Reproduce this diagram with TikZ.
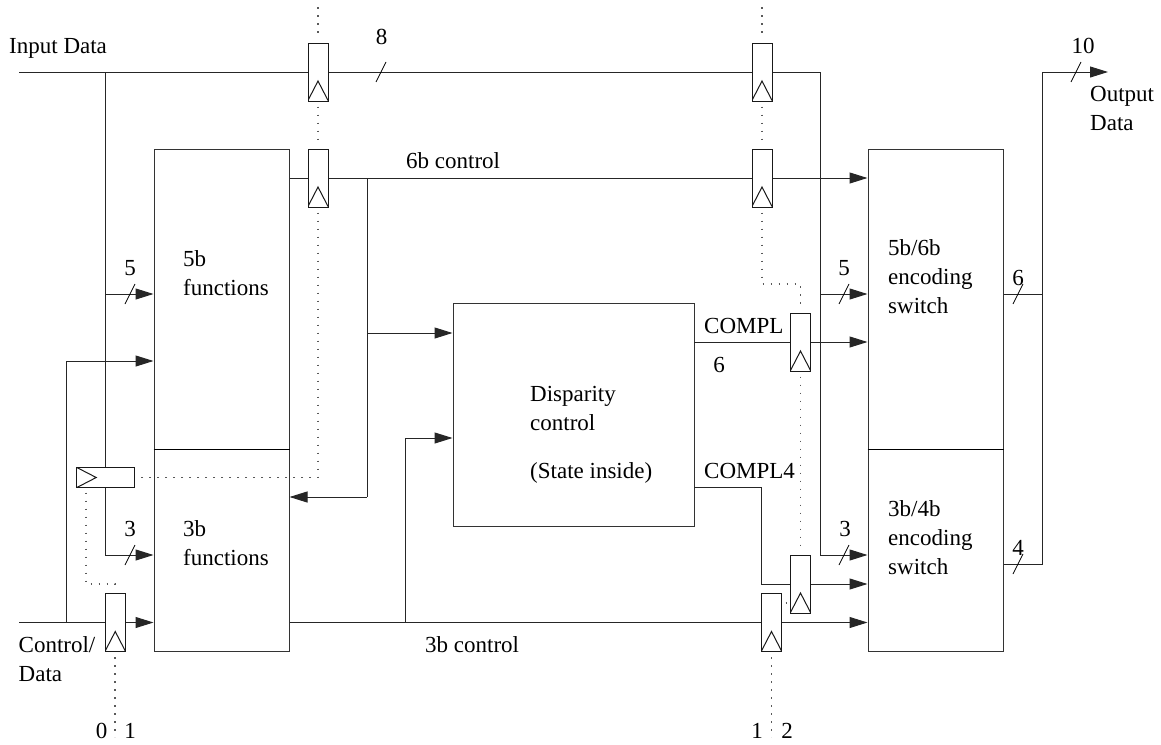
\documentclass[tikz,border=0pt]{standalone}
\usepackage{fontspec}
\setmainfont{Liberation Serif}
\usetikzlibrary{arrows.meta}

\tikzset{
	lbl/.style={inner sep=0pt, align=left, anchor=base west, font=\fontsize{23}{29}\selectfont},
	func/.style={draw=black!80, line width=1pt, inner sep=0pt},
	reg/.style={draw=black!90, line width=1pt, inner sep=0pt, fill=white, minimum width=20pt, minimum height=58pt,
		path picture={\draw[line width=1pt] ([yshift=0.6pt]path picture bounding box.south west) -- ([yshift=20pt]path picture bounding box.south) -- ([yshift=0.6pt]path picture bounding box.south east);}},
	regh/.style={draw=black!90, line width=1pt, inner sep=0pt, fill=white, minimum width=58pt, minimum height=20pt,
		path picture={\draw[line width=1pt] ([xshift=0.6pt]path picture bounding box.north west) -- ([xshift=20pt]path picture bounding box.west) -- ([xshift=0.6pt]path picture bounding box.south west);}},
	wire/.style={draw=black!85, line width=1pt},
	arr/.style={wire, -{Triangle[length=18pt,width=11pt]}},
	clk/.style={draw=black!65, line width=1.6pt, dash pattern=on 1.6pt off 6.4pt, shorten <=5pt, shorten >=5pt},
}

\begin{document}
\begin{tikzpicture}[x=1pt, y=-1pt]
	\useasboundingbox (0,0) rectangle (1161,744);

	% blocks
	\node[func, minimum width=135pt, minimum height=300pt] (fivefun) at (221.5,299) {};
	\node[func, minimum width=135pt, minimum height=202pt] (threefun) at (221.5,550) {};
	\node[func, minimum width=135pt, minimum height=300pt] (fivesw) at (935.5,299) {};
	\node[func, minimum width=135pt, minimum height=202pt] (threesw) at (935.5,550) {};
	\node[func, minimum width=241pt, minimum height=223pt] (disp) at (573.5,414.5) {};
	\draw[line width=1.8pt] (fivefun.south west) -- (fivefun.south east);
	\draw[line width=1.8pt] (fivesw.south west) -- (fivesw.south east);

	% registers
	\node[reg] (regdata) at (318,72) {};
	\node[reg] (regsix) at (318,178) {};
	\node[reg] (regdatab) at (762,72) {};
	\node[reg] (regsixb) at (762,178) {};
	\node[reg] (regcompl) at (800.5,342) {};
	\node[reg] (regcomplf) at (800.5,584) {};
	\node[reg] (regthree) at (771.5,622.5) {};
	\node[reg] (regctrl) at (115.25,622.5) {};
	\node[regh] (regstate) at (105.25,477.5) {};

	% clock lines
	\coordinate (clktopa) at (318,2);
	\coordinate (clktopb) at (762,2);
	\coordinate (clkbota) at (115.25,742);
	\coordinate (clkbotb) at (771.5,742);
	\draw[clk] (clktopa) -- (regdata.north);
	\draw[clk] (regdata.south) -- (regsix.north);
	\draw[clk] (regsix.south) -- (regsix.south |- regstate.east) -- (regstate.east);
	\draw[clk] (clktopb) -- (regdatab.north);
	\draw[clk] (regdatab.south) -- (regsixb.north);
	\draw[clk] (regsixb.south) -- (762,284) -- (800.5,284) -- (regcompl.north);
	\draw[clk] (regcompl.south) -- (regcomplf.north);
	\draw[clk, shorten <=3.6pt, shorten >=3.6pt] (regthree.east |- 0,603) -- (regcomplf.west |- 0,603);
	\draw[clk] (regthree.south) -- (clkbotb);
	\draw[clk] (regctrl.south) -- (clkbota);
	\draw[clk] (86,487.5) -- (86,584) -- (115.25,584) -- (regctrl.north);

	% junctions
	\coordinate (datain) at (19,72);
	\coordinate (ctrlin) at (19,622.5);
	\coordinate (busin) at (regstate.center |- regdata.west);
	\coordinate (busfive) at (busin |- 0,294);
	\coordinate (busthree) at (busin |- 0,555);
	\coordinate (ctrltap) at (66.5,622.5);
	\coordinate (ctrlup) at (66.5,361);
	\coordinate (busr) at (820,72);
	\coordinate (busrfive) at (820,294);
	\coordinate (busrthree) at (820,555);
	\coordinate (sixtap) at (367,178);
	\coordinate (sixdisp) at (367,333);
	\coordinate (sixback) at (367,497);
	\coordinate (threetap) at (405,622.5);
	\coordinate (threeup) at (405,438);
	\coordinate (complout) at (694,342);
	\coordinate (complfa) at (694,487);
	\coordinate (complfb) at (761.5,487);
	\coordinate (complfc) at (761.5,584);
	\coordinate (outsix) at (1042,294);
	\coordinate (outfour) at (1042,564);
	\coordinate (outtop) at (1042,72);
	\coordinate (outend) at (1108,72);

	% data wires
	\draw[wire] (datain) -- (regdata.west);
	\draw[wire] (regdata.east) -- (regdatab.west);
	\draw[wire] (regdatab.east) -- (busr) -- (busrthree);
	\draw[arr] (busrfive) -- (busrfive -| fivesw.west);
	\draw[arr] (busrthree) -- (busrthree -| threesw.west);
	\draw[wire] (busin) -- (regstate.north);
	\draw[wire] (regstate.south) -- (busthree);
	\draw[arr] (busfive) -- (busfive -| fivefun.west);
	\draw[arr] (busthree) -- (busthree -| threefun.west);
	\draw[wire] (ctrlin) -- (regctrl.west);
	\draw[arr] (regctrl.east) -- (regctrl.east -| threefun.west);
	\draw[wire] (ctrltap) -- (ctrlup);
	\draw[arr] (ctrlup) -- (ctrlup -| fivefun.west);

	% control wires
	\draw[wire] (regsix.west -| fivefun.east) -- (regsix.west);
	\draw[wire] (regsix.east) -- (regsixb.west);
	\draw[arr] (regsixb.east) -- (regsixb.east -| fivesw.west);
	\draw[wire] (sixtap) -- (sixback);
	\draw[arr] (sixdisp) -- (sixdisp -| disp.west);
	\draw[arr] (sixback) -- (sixback -| threefun.east);
	\draw[wire] (regthree.west -| threefun.east) -- (regthree.west);
	\draw[arr] (regthree.east) -- (regthree.east -| threesw.west);
	\draw[wire] (threetap) -- (threeup);
	\draw[arr] (threeup) -- (threeup -| disp.west);
	\draw[wire] (complout) -- (regcompl.west);
	\draw[arr] (regcompl.east) -- (regcompl.east -| fivesw.west);
	\draw[wire] (complfa) -- (complfb) -- (complfc) -- (regcomplf.west);
	\draw[arr] (regcomplf.east) -- (regcomplf.east -| threesw.west);

	% output
	\draw[wire] (outsix -| fivesw.east) -- (outsix);
	\draw[wire] (outfour -| threesw.east) -- (outfour) -- (outtop);
	\draw[arr] (outtop) -- (outend);

	% bus ticks
	\foreach \tx/\ty in {381/72, 130/294, 130/555, 844/294, 844/555, 1018/294, 1018/564, 1076/72}
		\draw[line width=0.8pt] (\tx-5,\ty+10) -- (\tx+5,\ty-10);

	% labels
	\node[lbl] (lblin) at (9,53) {Input Data};
	\node[lbl, anchor=base] (lbleight) at (381.5,44) {8};
	\node[lbl, anchor=base] (lblten) at (1083,53) {10};
	\node[lbl] (lblout) at (1090,130) {Output\\Data};
	\node[lbl] (lblsix) at (406,168) {6b control};
	\node[lbl, anchor=base] (lblfivel) at (130,275) {5};
	\node[lbl, anchor=base] (lblthreel) at (130,536) {3};
	\node[lbl] (lblfive) at (183,295) {5b\\functions};
	\node[lbl] (lblthree) at (183,565) {3b\\functions};
	\node[lbl] (lblctrl) at (18.5,681) {Control/\\Data};
	\node[lbl, anchor=base] (lblzero) at (101.5,738) {0};
	\node[lbl, anchor=base] (lblone) at (130,738) {1};
	\node[lbl, anchor=base] (lblonb) at (757,738) {1};
	\node[lbl, anchor=base] (lbltwo) at (787,738) {2};
	\node[lbl] (lblthc) at (425,652) {3b control};
	\node[lbl] (lblcompl) at (704,333) {COMPL};
	\node[lbl, anchor=base] (lblsixb) at (719,372) {6};
	\node[lbl] (lblcomplf) at (704,478) {COMPL4};
	\node[lbl] (lbldisp) at (530,430) {Disparity\\control};
	\node[lbl] (lblstate) at (530,478) {(State inside)};
	\node[lbl] (lblfsw) at (888,313) {5b/6b\\encoding\\switch};
	\node[lbl] (lbltsw) at (888,574) {3b/4b\\encoding\\switch};
	\node[lbl, anchor=base] (lblfiver) at (844,275) {5};
	\node[lbl, anchor=base] (lblthreer) at (845,536) {3};
	\node[lbl, anchor=base] (lblsixo) at (1018,285) {6};
	\node[lbl, anchor=base] (lblfouro) at (1018,555) {4};
\end{tikzpicture}
\end{document}
